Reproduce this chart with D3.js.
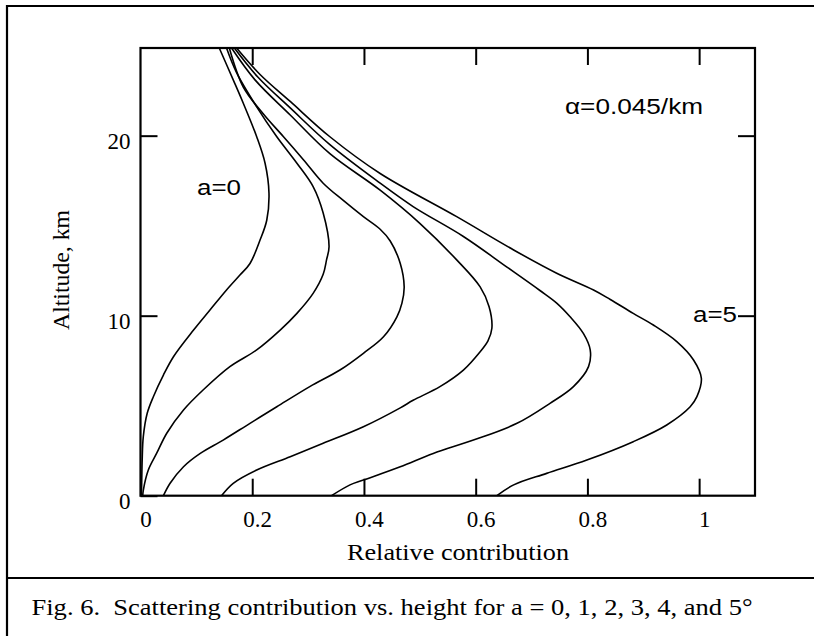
<!DOCTYPE html>
<html>
<head>
<meta charset="utf-8">
<script src="https://cdn.jsdelivr.net/npm/d3@7"></script>
<style>
  html, body { margin: 0; padding: 0; background: #fff; }
  svg { display: block; }
  .serif { font-family: "Times New Roman", Times, "Liberation Serif", serif; }
  .sans { font-family: Arial, Helvetica, "Liberation Sans", sans-serif; }
</style>
</head>
<body>
<svg id="chart" width="814" height="636"></svg>
<script>
// Axis ticks and labels
const xTickValues = [0, 0.2, 0.4, 0.6, 0.8, 1];
const xTickLabels = ["0", "0.2", "0.4", "0.6", "0.8", "1"];
const yTickValues = [0, 10, 20];
const yTickLabels = ["0", "10", "20"];

// Scattering contribution profiles: [relative contribution, altitude km]
const profileA0 = [[0.141,24.87],[0.166,23.1],[0.184,21.8],[0.208,19.94],[0.223,18.47],[0.230,16.8],[0.226,15.3],[0.214,14.2],[0.196,12.9],[0.178,12.26],[0.154,11.43],[0.124,10.3],[0.095,9.2],[0.059,7.72],[0.041,6.7],[0.023,5.5],[0.012,4.58],[0.005,3.28],[0.003,1.98],[0.002,0.5],[0.0015,0]];
const profileA1 = [[0.154,24.87],[0.172,23.5],[0.208,21.6],[0.244,19.94],[0.280,18.47],[0.309,17.17],[0.327,15.7],[0.3375,13.83],[0.333,13.1],[0.327,12.3],[0.309,11.24],[0.280,10.13],[0.250,9.2],[0.208,8.1],[0.160,7.17],[0.112,5.87],[0.077,4.76],[0.047,3.47],[0.029,2.36],[0.014,1.43],[0.005,0.3],[0.004,0]];
const profileA2 = [[0.159,24.87],[0.184,22.7],[0.220,21.2],[0.256,19.94],[0.292,18.65],[0.327,17.36],[0.363,16.4],[0.399,15.5],[0.429,14.8],[0.447,14.15],[0.465,12.9],[0.472,11.6],[0.468,10.7],[0.459,9.94],[0.435,8.83],[0.399,7.91],[0.357,6.98],[0.303,6.06],[0.244,4.94],[0.196,4.02],[0.148,3.09],[0.107,2.35],[0.077,1.61],[0.053,0.69],[0.041,0]];
const profileA3 = [[0.163,24.87],[0.205,23.1],[0.268,21.15],[0.339,19.0],[0.429,16.97],[0.500,15.13],[0.566,13.1],[0.608,11.6],[0.624,10.5],[0.629,9.3],[0.622,8.6],[0.608,8.0],[0.578,6.98],[0.536,6.06],[0.488,5.3],[0.465,4.88],[0.399,3.83],[0.327,2.91],[0.268,2.17],[0.208,1.43],[0.166,0.69],[0.145,0]];
const profileA4 = [[0.168,24.87],[0.210,23.26],[0.268,21.54],[0.339,19.5],[0.429,17.36],[0.488,16.06],[0.578,14.4],[0.656,12.7],[0.715,11.4],[0.745,10.7],[0.769,9.94],[0.793,9.0],[0.805,8.1],[0.802,7.17],[0.775,6.06],[0.733,5.13],[0.674,4.02],[0.596,3.09],[0.524,2.35],[0.465,1.61],[0.399,0.87],[0.375,0.6],[0.342,0]];
const profileA5 = [[0.172,24.87],[0.214,23.4],[0.268,21.9],[0.339,19.94],[0.429,17.9],[0.566,15.5],[0.668,13.65],[0.745,12.36],[0.811,11.43],[0.841,10.9],[0.882,10.13],[0.918,9.48],[0.960,8.56],[0.990,7.54],[1.004,6.52],[0.996,5.5],[0.984,4.94],[0.942,3.93],[0.882,3.0],[0.799,1.98],[0.727,1.24],[0.668,0.6],[0.638,0]];

const profiles = [profileA0, profileA1, profileA2, profileA3, profileA4, profileA5];

const svg = d3.select("#chart");

// Outer figure frame and caption separator
svg.append("path")
  .attr("d", "M7,636 V6 H814")
  .attr("fill", "none").attr("stroke", "#000").attr("stroke-width", 2.2);
svg.append("line")
  .attr("x1", 7).attr("x2", 814).attr("y1", 578).attr("y2", 578)
  .attr("stroke", "#000").attr("stroke-width", 2.2);

// Plot scales
const x = d3.scaleLinear().domain([0, 1.1]).range([140.5, 755]);
const y = d3.scaleLinear().domain([0, 24.87]).range([495.7, 48]);

const plot = svg.append("g");

// Curves
const line = d3.line()
  .x(d => x(d[0]))
  .y(d => y(d[1]))
  .curve(d3.curveCatmullRom.alpha(0.5));

plot.selectAll("path.profile")
  .data(profiles)
  .join("path")
  .attr("class", "profile")
  .attr("d", line)
  .attr("fill", "none")
  .attr("stroke", "#000")
  .attr("stroke-width", 1.6)
  .attr("stroke-linejoin", "round");

// Axes with inward ticks on all four sides
const tickLen = 17;
const [xLeft, xRight] = x.range();
const [yBottom, yTop] = y.range();

const axisB = plot.append("g")
  .attr("transform", `translate(0,${yBottom})`)
  .call(d3.axisBottom(x).tickValues(xTickValues).tickSize(-tickLen).tickPadding(15)
    .tickFormat((d, i) => xTickLabels[i]));
axisB.selectAll("text").attr("dx", 5);

const axisT = plot.append("g")
  .attr("transform", `translate(0,${yTop})`)
  .call(d3.axisTop(x).tickValues(xTickValues.slice(1)).tickSize(-tickLen).tickFormat(""));

const axisL = plot.append("g")
  .attr("transform", `translate(${xLeft},0)`)
  .call(d3.axisLeft(y).tickValues(yTickValues).tickSize(-tickLen).tickPadding(10)
    .tickFormat((d, i) => yTickLabels[i]));
axisL.selectAll("text").attr("dy", "0.55em");

const axisR = plot.append("g")
  .attr("transform", `translate(${xRight},0)`)
  .call(d3.axisRight(y).tickValues(yTickValues.slice(1)).tickSize(-tickLen).tickFormat(""));

[axisB, axisT, axisL, axisR].forEach(g => {
  g.attr("font-family", null).attr("font-size", null);
  g.select(".domain").remove();
  g.selectAll(".tick line").attr("stroke", "#000").attr("stroke-width", 2);
  g.selectAll("text").attr("class", "serif").attr("fill", "#000").style("font-size", "23px");
});

// Plot frame
plot.append("rect")
  .attr("x", xLeft).attr("y", yTop)
  .attr("width", xRight - xLeft).attr("height", yBottom - yTop)
  .attr("fill", "none").attr("stroke", "#000").attr("stroke-width", 2.2);

// Axis titles
svg.append("text")
  .attr("class", "serif")
  .attr("x", 458).attr("y", 560)
  .attr("text-anchor", "middle")
  .attr("textLength", 222).attr("lengthAdjust", "spacingAndGlyphs")
  .style("font-size", "24px")
  .text("Relative contribution");

svg.append("text")
  .attr("class", "serif")
  .attr("transform", "translate(69,270) rotate(-90)")
  .attr("text-anchor", "middle")
  .attr("textLength", 120).attr("lengthAdjust", "spacingAndGlyphs")
  .style("font-size", "23px")
  .text("Altitude, km");

// Annotations
svg.append("text")
  .attr("class", "sans")
  .attr("x", 565).attr("y", 114)
  .attr("textLength", 138).attr("lengthAdjust", "spacingAndGlyphs")
  .style("font-size", "22px")
  .text("α=0.045/km");

svg.append("text")
  .attr("class", "sans")
  .attr("x", 197).attr("y", 195)
  .attr("textLength", 44).attr("lengthAdjust", "spacingAndGlyphs")
  .style("font-size", "22px")
  .text("a=0");

svg.append("text")
  .attr("class", "sans")
  .attr("x", 693).attr("y", 321.5)
  .attr("textLength", 44).attr("lengthAdjust", "spacingAndGlyphs")
  .style("font-size", "22px")
  .text("a=5");

// Caption
svg.append("text")
  .attr("class", "serif")
  .attr("x", 31.5).attr("y", 615)
  .attr("textLength", 721).attr("lengthAdjust", "spacingAndGlyphs")
  .style("font-size", "23px")
  .style("white-space", "pre")
  .text("Fig. 6.  Scattering contribution vs. height for a = 0, 1, 2, 3, 4, and 5°");
</script>
</body>
</html>
